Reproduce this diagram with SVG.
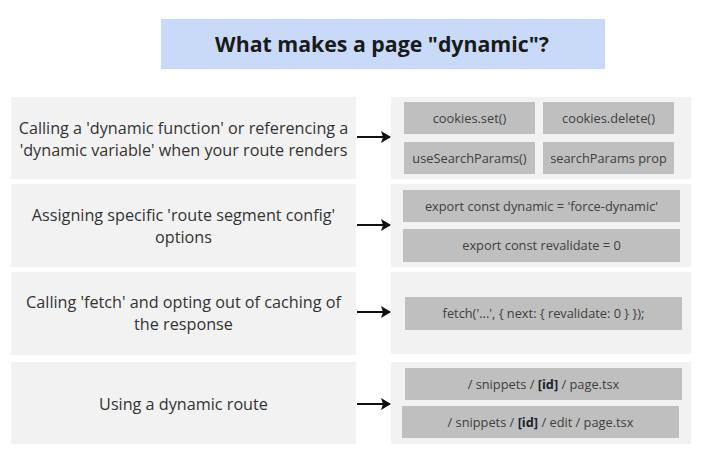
<svg xmlns="http://www.w3.org/2000/svg" width="707" height="459" viewBox="0 0 707 459">
<style>
.panel{fill:#f2f2f2}
.chip{fill:#bfbfbf}
.lt{font-family:"Open Sans","Liberation Sans",sans-serif;font-size:16.2px;fill:#333333;text-anchor:middle}
.ct{font-family:"Open Sans","Liberation Sans",sans-serif;font-size:12.8px;fill:#404040;text-anchor:middle}
.title{font-family:"Open Sans","Liberation Sans",sans-serif;font-size:21.3px;font-weight:bold;fill:#1a1a1a;text-anchor:middle}
.conn{stroke:#111111;stroke-width:2;fill:none}
</style>
<defs>
<marker id="ah" viewBox="0 0 10 12" refX="9" refY="6" markerWidth="10" markerHeight="12" markerUnits="userSpaceOnUse" orient="auto">
<path d="M0,0 L10,6 L0,12 L2,6 Z" fill="#111111"/>
</marker>
</defs>
<rect width="707" height="459" fill="#ffffff"/>
<g id="title">
<rect x="161" y="19" width="444" height="50" fill="#c9daf8"/>
<text class="title" x="382" y="52">What makes a page "dynamic"?</text>
</g>
<g id="left1">
<rect class="panel" x="11" y="97" width="345" height="82"/>
<text class="lt" x="183.5" y="134">Calling a 'dynamic function' or referencing a</text>
<text class="lt" x="183.5" y="156">'dynamic variable' when your route renders</text>
</g>
<g id="left2">
<rect class="panel" x="11" y="184" width="345" height="83"/>
<text class="lt" x="183.5" y="221">Assigning specific 'route segment config'</text>
<text class="lt" x="183.5" y="243">options</text>
</g>
<g id="left3">
<rect class="panel" x="11" y="272" width="345" height="83"/>
<text class="lt" x="183.5" y="308">Calling 'fetch' and opting out of caching of</text>
<text class="lt" x="183.5" y="330">the response</text>
</g>
<g id="left4">
<rect class="panel" x="11" y="362" width="345" height="82"/>
<text class="lt" x="183.5" y="410">Using a dynamic route</text>
</g>
<g id="right1">
<rect class="panel" x="391" y="97" width="300" height="82"/>
<g id="chip-cookies-set"><rect class="chip" x="404" y="102" width="131" height="32"/><text class="ct" x="469.5" y="122.5">cookies.set()</text></g>
<g id="chip-cookies-delete"><rect class="chip" x="543" y="102" width="131" height="32"/><text class="ct" x="608.5" y="122.5">cookies.delete()</text></g>
<g id="chip-usesearchparams"><rect class="chip" x="404" y="142" width="131" height="32"/><text class="ct" x="469.5" y="162.5">useSearchParams()</text></g>
<g id="chip-searchparams-prop"><rect class="chip" x="543" y="142" width="131" height="32"/><text class="ct" x="608.5" y="162.5">searchParams prop</text></g>
</g>
<g id="right2">
<rect class="panel" x="391" y="184" width="300" height="83"/>
<g id="chip-dynamic"><rect class="chip" x="403" y="190" width="277" height="32"/><text class="ct" x="541.5" y="210.5">export const dynamic = 'force-dynamic'</text></g>
<g id="chip-revalidate"><rect class="chip" x="403" y="229" width="277" height="33"/><text class="ct" x="541.5" y="250">export const revalidate = 0</text></g>
</g>
<g id="right3">
<rect class="panel" x="391" y="272" width="300" height="82"/>
<g id="chip-fetch"><rect class="chip" x="405" y="297" width="277" height="33"/><text class="ct" x="543.5" y="318">fetch('...', { next: { revalidate: 0 } });</text></g>
</g>
<g id="right4">
<rect class="panel" x="391" y="362" width="300" height="82"/>
<g id="chip-page"><rect class="chip" x="405" y="368" width="277" height="32"/><text class="ct" x="543.5" y="388.5">/ snippets / <tspan font-weight="bold" fill="#222">[id]</tspan> / page.tsx</text></g>
<g id="chip-edit"><rect class="chip" x="402" y="406" width="277" height="32"/><text class="ct" x="540.5" y="426.5">/ snippets / <tspan font-weight="bold" fill="#222">[id]</tspan> / edit / page.tsx</text></g>
</g>
<g id="connectors">
<line class="conn" x1="357" y1="137" x2="390" y2="137" marker-end="url(#ah)"/>
<line class="conn" x1="357" y1="225" x2="390" y2="225" marker-end="url(#ah)"/>
<line class="conn" x1="357" y1="312" x2="390" y2="312" marker-end="url(#ah)"/>
<line class="conn" x1="357" y1="404" x2="390" y2="404" marker-end="url(#ah)"/>
</g>
</svg>
